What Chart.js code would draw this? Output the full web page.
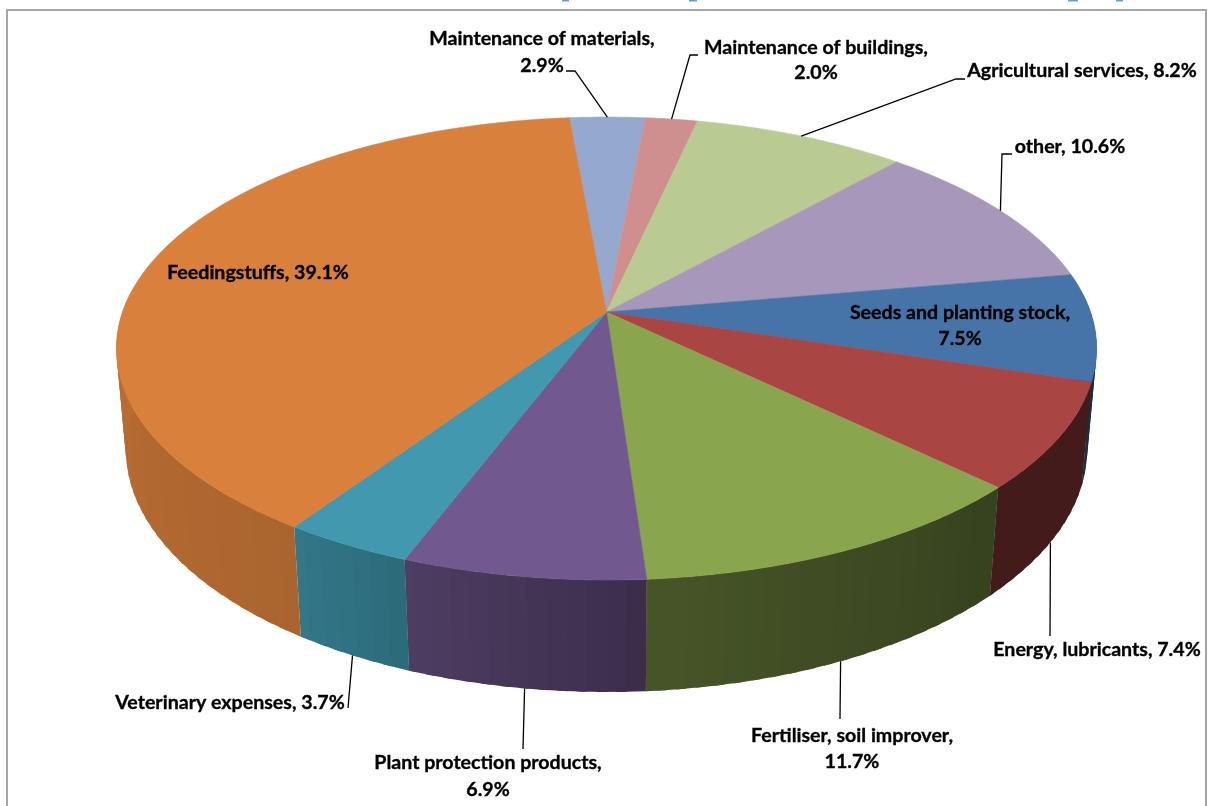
<!DOCTYPE html>
<html>
<head>
<meta charset="utf-8">
<style>
  html, body { margin: 0; padding: 0; background: #fff; }
  canvas { display: block; }
</style>
<script src="https://cdn.jsdelivr.net/npm/chart.js@4/dist/chart.umd.min.js"></script>
</head>
<body>
<canvas id="chart" width="1213" height="806"></canvas>
<script>
const categories = [
    'Maintenance of materials', 'Maintenance of buildings', 'Agricultural services', 'other',
    'Seeds and planting stock', 'Energy, lubricants', 'Fertiliser, soil improver',
    'Plant protection products', 'Veterinary expenses', 'Feedingstuffs'
];
const shares = [2.9, 2.0, 8.2, 10.6, 7.5, 7.4, 11.7, 6.9, 3.7, 39.1];
const sliceColors = [
    '#95a9cf', '#cf8f8e', '#b9cb92', '#a798bb', '#4673a8',
    '#a94543', '#89a54e', '#71588f', '#4198af', '#d8803c'
];

// the camera: u,v on the unit disc, h = 0 top face, 1 bottom face
const view = { cy: 312, R: 484, S: 225.7, D: 101.7, p: 0.1577, q: 0.0192 };

function project(cx, a, h) {
    const u = Math.cos(a), v = Math.sin(a);
    const w = 1 - view.p * v + view.q * h;
    return [cx + view.R * u / w, view.cy + (view.S * v + view.D * h) / w];
}

// side wall brightness against the clockwise angle from north
const shadeStops = [[0, 0.40], [134, 0.40], [176, 0.52], [201, 0.70], [214, 0.79], [270, 0.86], [360, 0.86]];

function shade(hex, deg) {
    deg = ((deg % 360) + 360) % 360;
    let f = 0.4;
    for (let i = 1; i < shadeStops.length; i++) {
        const [d0, f0] = shadeStops[i - 1], [d1, f1] = shadeStops[i];
        if (deg <= d1) { f = f0 + (f1 - f0) * (deg - d0) / (d1 - d0); break; }
    }
    const n = parseInt(hex.slice(1), 16);
    return `rgb(${(n >> 16) * f | 0},${((n >> 8) & 255) * f | 0},${(n & 255) * f | 0})`;
}

const perspectivePie = {
    id: 'perspectivePie',
    beforeDatasetsDraw(chart) {
        const { ctx } = chart;
        const arcs = chart.getDatasetMeta(0).data;
        ctx.save();
        ctx.lineJoin = 'round';

        // walls, in 2 degree bands, each one lapping under the next
        const step = Math.PI / 90;
        arcs.forEach((arc, i) => {
            for (let a = arc.startAngle; a < arc.endAngle; a += step) {
                const b = Math.min(a + step, arc.endAngle);
                const lap = Math.min(b + step / 2, arc.endAngle);
                if (Math.sin(b) < -0.1) continue;
                const p = [project(arc.x, a, 0), project(arc.x, lap, 0), project(arc.x, lap, 1), project(arc.x, a, 1)];
                const deg = ((a + b) / 2 + Math.PI / 2) * 180 / Math.PI;
                ctx.fillStyle = shade(sliceColors[i], deg);
                ctx.beginPath();
                p.forEach(q => ctx.lineTo(q[0], q[1]));
                ctx.closePath();
                ctx.fill();
            }
        });

        // top face
        arcs.forEach((arc, i) => {
            ctx.fillStyle = ctx.strokeStyle = sliceColors[i];
            ctx.lineWidth = 0.6;
            ctx.beginPath();
            ctx.moveTo(arc.x, view.cy);
            for (let a = arc.startAngle; a < arc.endAngle; a += step / 2) {
                const q = project(arc.x, a, 0);
                ctx.lineTo(q[0], q[1]);
            }
            const e = project(arc.x, arc.endAngle, 0);
            ctx.lineTo(e[0], e[1]);
            ctx.closePath();
            ctx.fill();
            ctx.stroke();
        });
        ctx.restore();
        return false;
    }
};

// where each label sits and how its leader bends; h says which rim the leader starts on
const labelLayout = [
    { i: 0, x: 542, y: 39, dy: 27, two: true, h: 0, bend: [[575, 71], [566, 71]] },
    { i: 1, x: 816, y: 48, dy: 25, two: true, h: 0, bend: [[690, 55], [698, 55]] },
    { i: 2, x: 1082, y: 71, h: 0, bend: [[956, 79], [965, 79]] },
    { i: 3, x: 1070, y: 147, h: 0, bend: [[1002, 154], [1012, 154]] },
    { i: 4, x: 960, y: 313, dy: 26, two: true },
    { i: 5, x: 1097, y: 650, h: 1, bend: [[1050, 636]] },
    { i: 6, x: 852, y: 736, dy: 26, two: true, h: 1, bend: [[840, 719]] },
    { i: 7, x: 488, y: 763, dy: 27, two: true, h: 1, bend: [[523, 749]] },
    { i: 8, x: 230, y: 703, h: 1, bend: [[348, 708]] },
    { i: 9, x: 258, y: 273 }
];

// bits of the cut off heading that show above the frame
const headingTips = [[562, 7], [689, 8], [1068, 10], [1116, 7]];

const pieLabels = {
    id: 'pieLabels',
    afterDraw(chart) {
        const { ctx } = chart;
        const arcs = chart.getDatasetMeta(0).data;
        ctx.save();

        ctx.fillStyle = '#6a9bd0';
        headingTips.forEach(t => ctx.fillRect(t[0], 0, t[1], 1.5));

        // sheet frame
        ctx.strokeStyle = '#a6a6a6';
        ctx.lineWidth = 2;
        ctx.beginPath();
        ctx.moveTo(7, 806);
        ctx.lineTo(7, 10);
        ctx.lineTo(1206, 10);
        ctx.lineTo(1206, 806);
        ctx.stroke();

        // leaders
        ctx.strokeStyle = '#000';
        ctx.lineWidth = 1.3;
        labelLayout.forEach(l => {
            if (!l.bend) return;
            const arc = arcs[l.i];
            const start = project(arc.x, (arc.startAngle + arc.endAngle) / 2, l.h);
            ctx.beginPath();
            ctx.moveTo(start[0], start[1]);
            l.bend.forEach(b => ctx.lineTo(b[0], b[1]));
            ctx.stroke();
        });

        // text, with a hair of stroke since Calibri bold sits heavier than Lato bold
        ctx.fillStyle = '#000';
        ctx.strokeStyle = '#000';
        ctx.lineWidth = 0.35;
        ctx.font = 'bold 19.6px Lato, Carlito, sans-serif';
        ctx.textAlign = 'center';
        ctx.textBaseline = 'middle';
        const put = (s, x, y) => {
            ctx.fillText(s, x, y);
            ctx.strokeText(s, x, y);
        };
        labelLayout.forEach(l => {
            const name = categories[l.i], pct = shares[l.i].toFixed(1) + '%';
            if (l.two) {
                put(name + ',', l.x, l.y);
                put(pct, l.x, l.y + l.dy);
            } else {
                put(name + ', ' + pct, l.x, l.y);
            }
        });
        ctx.restore();
    }
};

new Chart(document.getElementById('chart'), {
    type: 'pie',
    data: {
        labels: categories,
        datasets: [{ data: shares, backgroundColor: sliceColors, borderWidth: 0 }]
    },
    options: {
        responsive: false,
        animation: false,
        rotation: -5.1,
        layout: { padding: 0 },
        plugins: { legend: { display: false }, tooltip: { enabled: false }, title: { display: false } }
    },
    plugins: [perspectivePie, pieLabels]
});
</script>
</body>
</html>
